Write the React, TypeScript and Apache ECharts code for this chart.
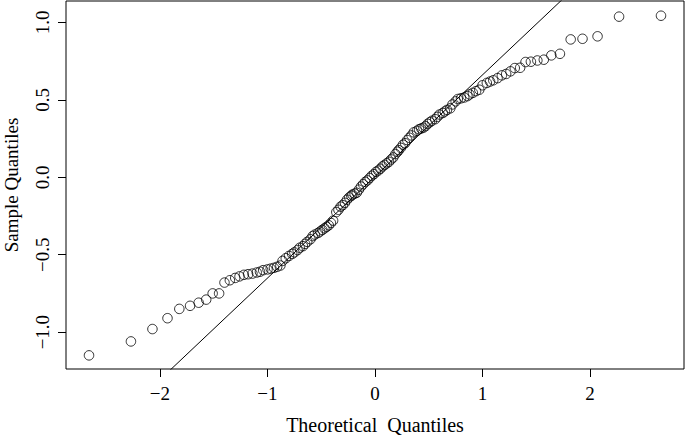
import React, { useEffect, useRef } from "react";
import * as echarts from "echarts";

const theoretical = [
  -2.66, -2.27, -2.07, -1.93, -1.82, -1.72, -1.64, -1.57, -1.51, -1.45,
  -1.40, -1.35, -1.30, -1.26, -1.22, -1.18, -1.14, -1.10, -1.07, -1.04,
  -1.00, -0.97, -0.94, -0.91, -0.88, -0.86, -0.83, -0.80, -0.77, -0.75,
  -0.72, -0.70, -0.67, -0.65, -0.63, -0.60, -0.58, -0.56, -0.53, -0.51,
  -0.49, -0.47, -0.45, -0.43, -0.41, -0.39, -0.36, -0.34, -0.32, -0.30,
  -0.28, -0.26, -0.24, -0.22, -0.21, -0.19, -0.17, -0.15, -0.13, -0.11,
  -0.09, -0.07, -0.05, -0.03, -0.01, 0.01, 0.03, 0.05, 0.07, 0.09,
  0.11, 0.13, 0.15, 0.17, 0.19, 0.21, 0.22, 0.24, 0.26, 0.28,
  0.30, 0.32, 0.34, 0.36, 0.39, 0.41, 0.43, 0.45, 0.47, 0.49,
  0.51, 0.53, 0.56, 0.58, 0.60, 0.63, 0.65, 0.67, 0.70, 0.72,
  0.75, 0.77, 0.80, 0.83, 0.86, 0.88, 0.91, 0.94, 0.97, 1.00,
  1.04, 1.07, 1.10, 1.14, 1.18, 1.22, 1.26, 1.30, 1.35, 1.40,
  1.45, 1.51, 1.57, 1.64, 1.72, 1.82, 1.93, 2.07, 2.27, 2.66,
];

const sample = [
  -1.15, -1.06, -0.98, -0.91, -0.85, -0.83, -0.81, -0.79, -0.75, -0.75,
  -0.68, -0.665, -0.65, -0.64, -0.63, -0.626, -0.622, -0.615, -0.61, -0.60,
  -0.595, -0.59, -0.585, -0.578, -0.57, -0.54, -0.523, -0.508, -0.495, -0.485,
  -0.47, -0.455, -0.445, -0.43, -0.417, -0.40, -0.38, -0.37, -0.36, -0.35,
  -0.34, -0.33, -0.32, -0.31, -0.295, -0.28, -0.225, -0.21, -0.19, -0.18,
  -0.165, -0.145, -0.13, -0.12, -0.112, -0.106, -0.10, -0.08, -0.06, -0.045,
  -0.03, -0.02, -0.005, 0.01, 0.02, 0.035, 0.043, 0.055, 0.07, 0.08,
  0.09, 0.10, 0.115, 0.128, 0.15, 0.165, 0.175, 0.19, 0.21, 0.22,
  0.24, 0.255, 0.27, 0.29, 0.30, 0.31, 0.315, 0.32, 0.33, 0.345,
  0.355, 0.365, 0.375, 0.39, 0.405, 0.415, 0.425, 0.435, 0.445, 0.47,
  0.49, 0.505, 0.51, 0.515, 0.524, 0.535, 0.545, 0.556, 0.565, 0.594,
  0.609, 0.618, 0.626, 0.64, 0.658, 0.667, 0.684, 0.705, 0.707, 0.744,
  0.746, 0.754, 0.759, 0.787, 0.797, 0.89, 0.894, 0.91, 1.037, 1.043,
];

const xTicks = [-2, -1, 0, 1, 2];
const yTicks = [-1, -0.5, 0, 0.5, 1];
const xLabels = ["\u22122", "\u22121", "0", "1", "2"];
const yLabels = ["\u22121.0", "\u22120.5", "0.0", "0.5", "1.0"];

const lineIntercept = 0.005;
const lineSlope = 0.656;

export default function App() {
  const ref = useRef<HTMLDivElement>(null);
  useEffect(() => {
    if (!ref.current) return;
    const chart = echarts.init(ref.current, undefined, { renderer: "svg" });
    const font = "'Liberation Serif', 'DejaVu Serif', serif";
    const pts = theoretical.map((x, i) => [x, sample[i]]);
    const lineData = [
      [-3, lineIntercept + lineSlope * -3],
      [3, lineIntercept + lineSlope * 3],
    ];
    chart.setOption({
      animation: false,
      backgroundColor: "#fff",
      grid: {
        left: 66,
        right: 1,
        top: 1,
        bottom: 67,
        outerBoundsMode: "none",
        containLabel: false,
        show: true,
        borderColor: "#000",
        borderWidth: 1,
        backgroundColor: "transparent",
      },
      xAxis: {
        type: "value",
        min: -2.874,
        max: 2.874,
        name: "Theoretical  Quantiles",
        nameLocation: "middle",
        nameGap: 46,
        nameTextStyle: { fontFamily: font, fontSize: 20, color: "#000" },
        axisLine: { show: false, onZero: false },
        splitLine: { show: false },
        axisTick: {
          show: true,
          length: 8,
          customValues: xTicks,
          lineStyle: { color: "#000", width: 1 },
        },
        axisLabel: {
          customValues: xTicks,
          formatter: (v: number) => xLabels[xTicks.indexOf(v)] ?? "",
          fontFamily: font,
          fontSize: 19,
          color: "#000",
          margin: 15,
        },
      },
      yAxis: {
        type: "value",
        min: -1.238,
        max: 1.138,
        name: "Sample Quantiles",
        nameLocation: "middle",
        nameRotate: 90,
        nameGap: 45,
        nameTextStyle: { fontFamily: font, fontSize: 19, lineHeight: 19, color: "#000" },
        axisLine: { show: false, onZero: false },
        splitLine: { show: false },
        axisTick: {
          show: true,
          length: 8,
          customValues: yTicks,
          lineStyle: { color: "#000", width: 1 },
        },
        axisLabel: {
          customValues: yTicks,
          formatter: (v: number) => yLabels[yTicks.indexOf(v)] ?? "",
          rotate: 90,
          fontFamily: font,
          fontSize: 19,
          color: "#000",
          margin: 14,
        },
      },
      series: [
        {
          type: "scatter",
          data: pts,
          symbol: "circle",
          symbolSize: 9.5,
          itemStyle: { color: "transparent", borderColor: "#000", borderWidth: 1 },
          z: 3,
        },
        {
          type: "line",
          data: lineData,
          symbol: "none",
          clip: true,
          lineStyle: { color: "#000", width: 1 },
          z: 2,
        },
      ],
    });
    return () => chart.dispose();
  }, []);
  return <div ref={ref} style={{ width: 685, height: 436, position: "absolute", left: 0, top: 0 }} />;
}
